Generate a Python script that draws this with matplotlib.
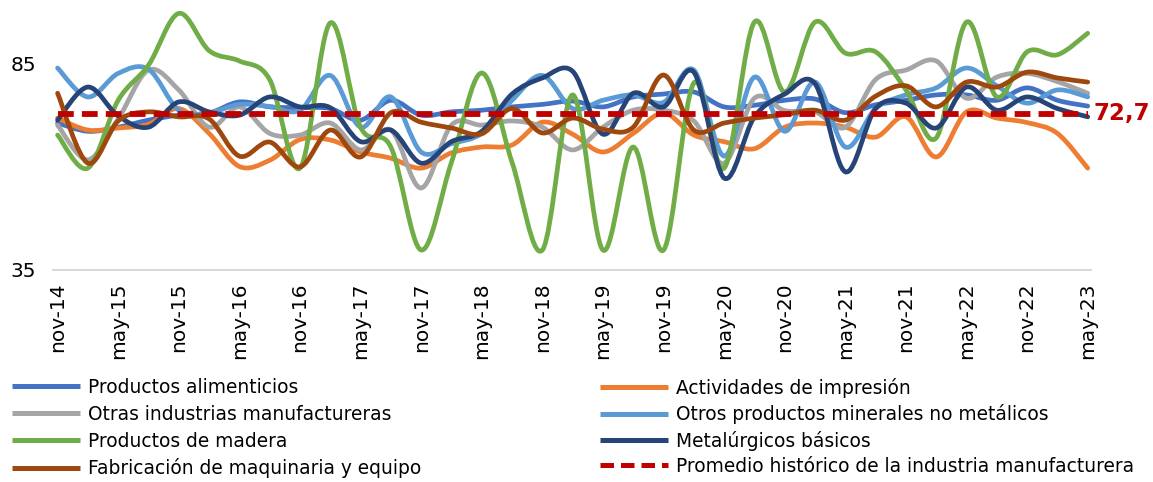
import matplotlib
matplotlib.use("Agg")
import matplotlib.pyplot as plt
import numpy as np
from matplotlib.path import Path
from matplotlib.patches import PathPatch
from matplotlib.lines import Line2D

# trimestres nov-14 ... may-23
periodos = ["nov-14", "feb-15", "may-15", "ago-15", "nov-15", "feb-16", "may-16", "ago-16",
            "nov-16", "feb-17", "may-17", "ago-17", "nov-17", "feb-18", "may-18", "ago-18",
            "nov-18", "feb-19", "may-19", "ago-19", "nov-19", "feb-20", "may-20", "ago-20",
            "nov-20", "feb-21", "may-21", "ago-21", "nov-21", "feb-22", "may-22", "ago-22",
            "nov-22", "feb-23", "may-23"]

alimenticios = [70.5, 68.5, 69.5, 71.2, 72.4, 72.9, 75.6, 74.4, 74.2, 74.0, 71.2, 76.0,
                72.4, 73.2, 73.6, 74.4, 75.0, 75.8, 74.4, 76.8, 77.5, 78.0, 74.4, 74.8,
                76.0, 76.3, 73.0, 74.9, 76.0, 77.3, 77.3, 76.0, 79.0, 76.0, 74.6]
impresion = [71.7, 68.8, 69.3, 70.2, 74.0, 68.0, 60.0, 61.5, 66.5, 66.4, 63.5, 62.0,
             59.6, 63.3, 64.7, 65.2, 70.7, 67.8, 63.5, 68.0, 72.9, 67.6, 66.0, 64.3,
             69.5, 70.5, 69.5, 67.1, 72.0, 62.3, 73.2, 71.7, 70.6, 68.0, 59.6]
otras = [70.0, 61.6, 71.5, 83.3, 78.5, 69.5, 74.4, 68.0, 67.6, 70.5, 64.0, 68.8,
         54.8, 70.0, 70.0, 71.0, 69.5, 64.0, 69.5, 73.6, 73.6, 71.0, 60.8, 76.5,
         73.5, 73.2, 69.5, 81.0, 83.3, 85.5, 76.5, 81.6, 82.5, 80.5, 77.7]
minerales = [83.8, 76.8, 82.5, 83.5, 73.6, 73.0, 75.0, 74.5, 73.6, 82.0, 69.5, 76.8,
             63.5, 65.5, 68.0, 76.0, 82.0, 74.0, 76.0, 77.3, 75.5, 83.3, 62.5, 81.6,
             68.5, 80.4, 64.7, 74.0, 77.3, 79.0, 83.8, 79.5, 75.3, 78.5, 76.8]
madera = [67.6, 59.6, 76.0, 84.5, 97.0, 88.0, 85.5, 81.0, 59.6, 94.7, 69.5, 64.7,
          39.8, 61.0, 82.6, 61.0, 39.8, 77.3, 39.8, 64.7, 39.8, 80.2, 59.6, 94.9,
          78.0, 94.9, 87.4, 87.7, 78.5, 66.9, 94.9, 76.8, 87.7, 87.0, 92.2]
metalurgicos = [71.2, 79.2, 72.2, 69.5, 75.6, 73.2, 72.4, 76.8, 74.4, 74.2, 66.0, 68.8,
                60.8, 66.0, 68.5, 77.5, 81.4, 83.0, 67.8, 77.7, 74.4, 82.8, 57.2, 72.0,
                77.5, 80.0, 58.7, 74.0, 75.3, 69.3, 79.2, 73.6, 76.8, 74.0, 72.0]
maquinaria = [77.7, 60.8, 71.0, 73.2, 72.0, 71.5, 62.5, 65.9, 59.9, 68.8, 62.3, 73.0,
              70.7, 69.3, 67.9, 74.0, 68.1, 71.7, 69.0, 69.5, 82.1, 68.8, 70.5, 71.7,
              72.5, 73.6, 71.2, 77.0, 79.5, 74.4, 80.4, 79.2, 82.8, 81.4, 80.4]
promedio = 72.7

series = [
    ("Productos alimenticios", alimenticios, "#4472C4"),
    ("Actividades de impresión", impresion, "#ED7D31"),
    ("Otras industrias manufactureras", otras, "#A5A5A5"),
    ("Otros productos minerales no metálicos", minerales, "#5B9BD5"),
    ("Productos de madera", madera, "#70AD47"),
    ("Metalúrgicos básicos", metalurgicos, "#264478"),
    ("Fabricación de maquinaria y equipo", maquinaria, "#9E480E"),
]
nombre_promedio = "Promedio histórico de la industria manufacturera"
rojo = "#C00000"

plt.rcParams["font.family"] = ["DejaVu Sans"]


def curva_suave(xs, ys):
    # bezier tipo catmull-rom, como las lineas suavizadas de excel
    pts = np.column_stack([xs, ys]).astype(float)
    n = len(pts)
    verts = [pts[0]]
    codes = [Path.MOVETO]
    for i in range(n - 1):
        p0 = pts[max(i - 1, 0)]
        p1 = pts[i]
        p2 = pts[i + 1]
        p3 = pts[min(i + 2, n - 1)]
        c1 = p1 + (p2 - p0) / 6.0
        c2 = p2 - (p3 - p1) / 6.0
        verts += [c1, c2, p2]
        codes += [Path.CURVE4] * 3
    return Path(verts, codes)


fig = plt.figure(figsize=(11.53, 4.82), dpi=100)
ax = fig.add_axes([0.046, 0.44, 0.9, 0.558])

x = np.arange(len(periodos))
handles = []
for nombre, vals, color in series:
    patch = PathPatch(curva_suave(x, vals), facecolor="none", edgecolor=color,
                      lw=3.4, capstyle="round", joinstyle="round")
    ax.add_patch(patch)
    handles.append(Line2D([], [], color=color, lw=3.6, solid_capstyle="butt", label=nombre))

ax.plot(x, np.full(len(x), promedio), color=rojo, lw=4.2, dashes=(2.7, 1.4))
handles.append(Line2D([], [], color=rojo, lw=3.6, dashes=(2.7, 1.4), label=nombre_promedio))

ax.annotate(f"{promedio:.1f}".replace(".", ","), xy=(x[-1], promedio), xytext=(4, 0),
            textcoords="offset points", color=rojo, fontsize=16.5, fontweight="bold",
            va="center", ha="left", annotation_clip=False)

ax.set_xlim(-0.15, len(x) - 1 + 0.1)
ax.set_ylim(35, 100)
ax.set_yticks([35, 85])
ax.set_xticks(x[::2])
ax.set_xticklabels(periodos[::2], rotation=90, fontsize=14.5)
ax.tick_params(axis="y", labelsize=14.5, length=0, pad=12)
ax.tick_params(axis="x", length=0, pad=9)
for lado in ["left", "right", "top"]:
    ax.spines[lado].set_visible(False)
ax.spines["bottom"].set_color("#D9D9D9")
ax.spines["bottom"].set_linewidth(1.5)

col1 = [handles[0], handles[2], handles[4], handles[6]]
col2 = [handles[1], handles[3], handles[5], handles[7]]
kw = dict(frameon=False, fontsize=13.4, handlelength=3.65, handletextpad=0.42,
          borderpad=0, borderaxespad=0, loc="upper left")
fig.legend(handles=col1, bbox_to_anchor=(12 / 1153, 1 - 378 / 482), labelspacing=0.42, **kw)
fig.legend(handles=col2, bbox_to_anchor=(600 / 1153, 1 - 378 / 482), labelspacing=0.34, **kw)

fig.savefig("out.png", dpi=100)
